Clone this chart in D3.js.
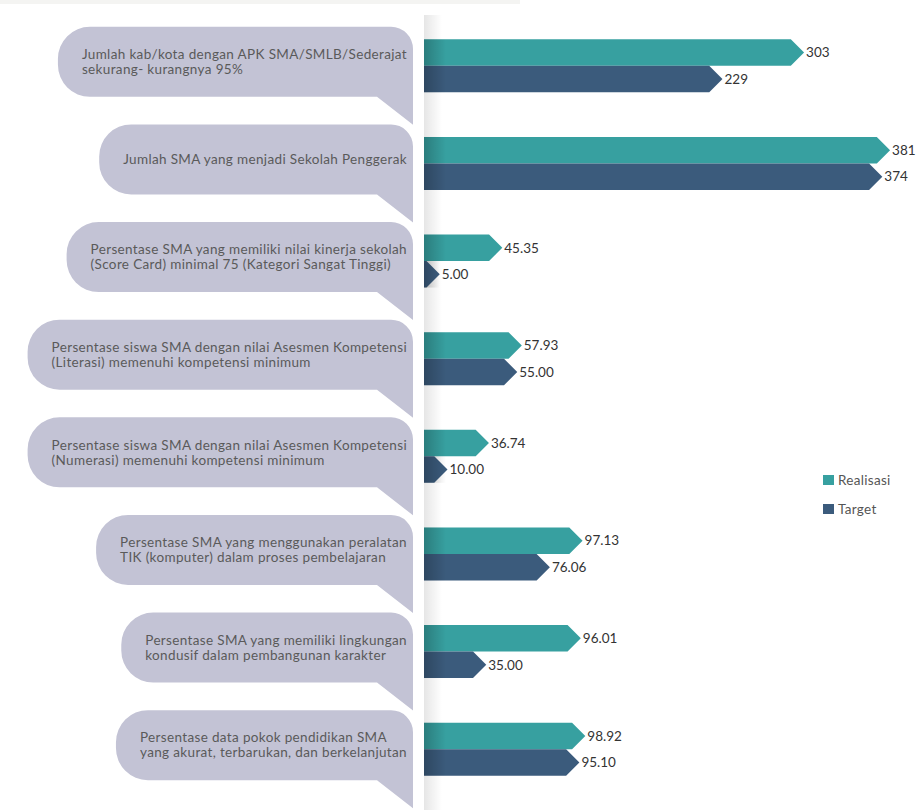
<!DOCTYPE html>
<html>
<head>
<meta charset="utf-8">
<script src="https://cdn.jsdelivr.net/npm/d3@7"></script>
<style>
  body { margin: 0; background: #fff; }
  svg { display: block; font-family: Lato, "Open Sans", sans-serif; }
</style>
</head>
<body>
<svg id="chart" width="918" height="810"></svg>
<script>
// indicator labels (each line of the bubble)
var labels = [
  ["Jumlah kab/kota dengan APK SMA/SMLB/Sederajat", "sekurang- kurangnya 95%"],
  ["Jumlah SMA yang menjadi Sekolah Penggerak"],
  ["Persentase SMA yang memiliki nilai kinerja sekolah", "(Score Card) minimal 75 (Kategori Sangat Tinggi)"],
  ["Persentase siswa SMA dengan nilai Asesmen Kompetensi", "(Literasi) memenuhi kompetensi minimum"],
  ["Persentase siswa SMA dengan nilai Asesmen Kompetensi", "(Numerasi) memenuhi kompetensi minimum"],
  ["Persentase SMA yang menggunakan peralatan", "TIK (komputer) dalam proses pembelajaran"],
  ["Persentase SMA yang memiliki lingkungan", "kondusif dalam pembangunan karakter"],
  ["Persentase data pokok pendidikan SMA", "yang akurat, terbarukan, dan berkelanjutan"]
];
var units = ["count", "count", "pct", "pct", "pct", "pct", "pct", "pct"];
var realisasi = [303, 381, 45.35, 57.93, 36.74, 97.13, 96.01, 98.92];
var target = [229, 374, 5.00, 55.00, 10.00, 76.06, 35.00, 95.10];
var seriesNames = ["Realisasi", "Target"];
var seriesColors = ["#37a0a0", "#3b5b7c"];

var svg = d3.select("#chart");
var x0 = 424, tipEdge = 413;

var y = d3.scaleBand().domain(d3.range(labels.length)).range([17, 798]);
// counts and percentages are drawn on their own scales
var xCount = d3.scaleLinear().domain([0, 400]).range([x0 + 46, x0 + 487]);
var xPct = d3.scaleLinear().domain([0, 100]).range([x0 + 8, x0 + 163]);
function xFor(i, v) { return units[i] === "count" ? xCount(v) : xPct(v); }
function fmt(i, v) { return units[i] === "count" ? d3.format("d")(v) : d3.format(".2f")(v); }

var defs = svg.append("defs");
var sh = defs.append("linearGradient").attr("id", "panelShadow");
sh.append("stop").attr("offset", "0%").attr("stop-color", "#000").attr("stop-opacity", 0.1);
sh.append("stop").attr("offset", "100%").attr("stop-color", "#000").attr("stop-opacity", 0);
var bs = defs.append("linearGradient").attr("id", "barShadow");
bs.append("stop").attr("offset", "0%").attr("stop-color", "#000").attr("stop-opacity", 0.22);
bs.append("stop").attr("offset", "100%").attr("stop-color", "#000").attr("stop-opacity", 0);

svg.append("rect").attr("x", 0).attr("y", 0).attr("width", 520).attr("height", 4).attr("fill", "#f4f4f2");
svg.append("rect").attr("x", x0).attr("y", 15).attr("width", 18).attr("height", 795).attr("fill", "url(#panelShadow)");

var rows = svg.selectAll(".row").data(labels).enter().append("g").attr("class", "row");

// speech bubbles
rows.each(function(lines, i) {
  var g = d3.select(this);
  var cy = y(i) + y.bandwidth() / 2 - 4;
  var h = 70, T = cy - h / 2, B = cy + h / 2;
  var txt = g.append("text").attr("fill", "#5a5a5a")
    .style("font-size", "13.5px").style("letter-spacing", "0.35px");
  lines.forEach(function(l, k) {
    txt.append("tspan").attr("x", 0)
      .attr("y", cy + (k - (lines.length - 1) / 2) * 15)
      .attr("dy", "0.35em").text(l);
  });
  var w = txt.node().getBBox().width;
  var L = tipEdge - w - 30, r = 32, rc = 22;
  txt.selectAll("tspan").attr("x", L + 24);
  g.insert("path", "text").attr("fill", "#c3c3d5").attr("d",
    "M" + (L + r) + "," + T + "H" + (tipEdge - rc) +
    "A" + rc + "," + rc + " 0 0 1 " + tipEdge + "," + (T + rc) +
    "V" + (B + 28) + "L" + (tipEdge - 36) + "," + B +
    "H" + (L + r) + "A" + r + "," + r + " 0 0 1 " + L + "," + (B - r) +
    "V" + (T + r) + "A" + r + "," + r + " 0 0 1 " + (L + r) + "," + T + "Z");
});

// arrow bars
var bh = 26.5;
function arrow(xEnd, top) {
  var s = Math.max(x0, xEnd - bh / 2);
  return "M" + x0 + "," + top + "H" + s + "L" + xEnd + "," + (top + bh / 2) +
    "L" + s + "," + (top + bh) + "H" + x0 + "Z";
}
rows.each(function(lines, i) {
  var g = d3.select(this);
  var cy = y(i) + y.bandwidth() / 2;
  [realisasi[i], target[i]].forEach(function(v, k) {
    var top = cy - bh + k * bh;
    var xe = xFor(i, v);
    g.append("path").attr("d", arrow(xe, top)).attr("fill", seriesColors[k]);
    g.append("rect").attr("x", x0).attr("y", top).attr("width", Math.min(22, xe - x0))
      .attr("height", bh).attr("fill", "url(#barShadow)");
    g.append("text").attr("x", xe + 2).attr("y", top + bh / 2).attr("dy", "0.35em")
      .attr("fill", "#333").style("font-size", "13.5px").text(fmt(i, v));
  });
});

// legend
var lg = svg.append("g").attr("transform", "translate(823,475)");
seriesNames.forEach(function(n, k) {
  lg.append("rect").attr("x", 0).attr("y", k * 29).attr("width", 11).attr("height", 10).attr("fill", seriesColors[k]);
  lg.append("text").attr("x", 15).attr("y", k * 29 + 5).attr("dy", "0.35em")
    .attr("fill", "#555").style("font-size", "13.5px").style("letter-spacing", "0.3px").text(n);
});
</script>
</body>
</html>
